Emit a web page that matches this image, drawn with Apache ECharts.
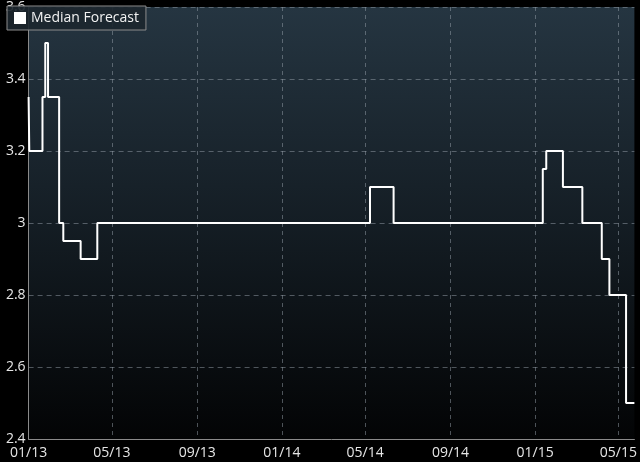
<!DOCTYPE html>
<html>
<head>
<meta charset="utf-8">
<script src="https://cdn.jsdelivr.net/npm/echarts@6/dist/echarts.min.js"></script>
<style>
html,body{margin:0;padding:0;background:#000;}
#chart{width:640px;height:462px;}
</style>
</head>
<body>
<div id="chart"></div>
<script>
// Change dates of the median forecast (step line, value holds until next date)
var changeDates = ['2013-01-01','2013-01-02','2013-01-21','2013-01-25','2013-01-29','2013-02-14','2013-02-20','2013-03-17','2013-04-10','2014-05-08','2014-06-11','2015-01-12','2015-01-17','2015-02-10','2015-03-10','2015-04-07','2015-04-18','2015-05-12','2015-05-24'];
var medianValues = [3.35, 3.2, 3.35, 3.5, 3.35, 3.0, 2.95, 2.9, 3.0, 3.1, 3.0, 3.15, 3.2, 3.1, 3.0, 2.9, 2.8, 2.5, 2.5];
var tickDates = ['2013-01-01','2013-05-01','2013-09-01','2014-01-01','2014-05-01','2014-09-01','2015-01-01','2015-05-01'];
var tickLabels = ['01/13','05/13','09/13','01/14','05/14','09/14','01/15','05/15'];
var yTicks = [2.4, 2.6, 2.8, 3, 3.2, 3.4, 3.6];
var seriesName = 'Median Forecast';

// days since 2013-01-01
var DAY = 86400000, T0 = Date.UTC(2013,0,1);
function dn(d){ var p = d.split('-'); return Math.round((Date.UTC(+p[0], +p[1]-1, +p[2]) - T0) / DAY); }
var tickDays = tickDates.map(dn);
var data = changeDates.map(function(d,i){ return [dn(d), medianValues[i]]; });

var chart = echarts.init(document.getElementById('chart'));
chart.setOption({
  backgroundColor: '#000',
  animation: false,
  textStyle: { fontFamily: 'Open Sans' },
  grid: {
    left: 28.6, right: 4, top: 6, bottom: 23,
    show: true, borderWidth: 0,
    backgroundColor: new echarts.graphic.LinearGradient(0,0,0,1,[
      {offset:0, color:'#253541'},
      {offset:0.5, color:'#141d24'},
      {offset:1, color:'#030405'}
    ])
  },
  legend: {
    left: 7, top: 6,
    padding: [5, 7, 5, 7],
    backgroundColor: 'rgba(28,38,46,0.92)',
    borderColor: '#8c8c8c', borderWidth: 1,
    itemWidth: 12, itemHeight: 12, itemGap: 7,
    icon: 'rect',
    textStyle: { color: '#f2f2f2', fontSize: 14, fontFamily: 'Open Sans' },
    data: [{ name: seriesName, itemStyle: { color: '#fff' } }]
  },
  xAxis: {
    type: 'value',
    min: 0,
    max: dn('2015-05-24'),
    axisLine: { show: true, lineStyle: { color: '#8a8a8a', width: 1 } },
    axisTick: { show: false, customValues: tickDays },
    axisLabel: {
      customValues: tickDays,
      color: '#e6e6e6', fontSize: 14, margin: 7,
      hideOverlap: false,
      formatter: function(v){ var i = tickDays.indexOf(v); return i >= 0 ? tickLabels[i] : ''; }
    },
    splitLine: { show: true, lineStyle: { color: 'rgba(150,160,170,0.5)', type: [4,4], width: 1 } }
  },
  yAxis: {
    type: 'value',
    min: yTicks[0], max: yTicks[yTicks.length-1], interval: 0.2,
    axisLine: { show: true, lineStyle: { color: '#8a8a8a', width: 1 } },
    axisTick: { show: false },
    axisLabel: {
      color: '#e6e6e6', fontSize: 14, margin: 3,
      formatter: function(v){ return String(+v.toFixed(1)); }
    },
    splitLine: { show: true, lineStyle: { color: 'rgba(150,160,170,0.5)', type: [5,4], width: 1 } }
  },
  series: [{
    name: seriesName,
    type: 'line',
    step: 'end',
    data: data,
    showSymbol: false,
    symbol: 'none',
    lineStyle: { color: '#ffffff', width: 2 },
    itemStyle: { color: '#ffffff' }
  }]
});
</script>
</body>
</html>
